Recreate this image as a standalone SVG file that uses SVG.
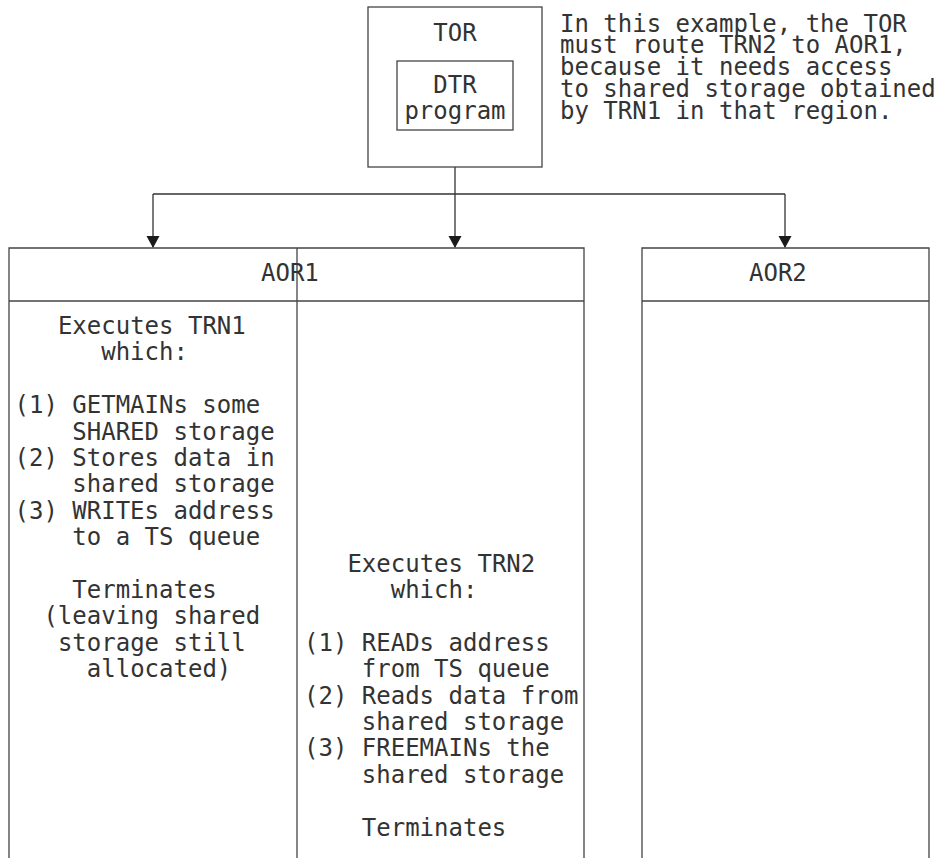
<svg xmlns="http://www.w3.org/2000/svg" width="937" height="858" viewBox="0 0 937 858">
<defs>
<style>
.box{fill:none;stroke:#444;stroke-width:1.3}
.ln{fill:none;stroke:#333;stroke-width:1.3}
.t{font-family:"DejaVu Sans Mono","Liberation Mono",monospace;font-size:24px;fill:#333}
.m{text-anchor:middle}
</style>
</defs>
<rect width="937" height="858" fill="#fff"/>

<g id="connectors">
<path class="ln" d="M455,167 V247"/>
<path class="ln" d="M153,194 H785"/>
<path class="ln" d="M153,194 V247"/>
<path class="ln" d="M785,194 V247"/>
<path d="M448.5,236 L461.5,236 L455,248 Z" fill="#1a1a1a"/>
<path d="M146.5,236 L159.5,236 L153,248 Z" fill="#1a1a1a"/>
<path d="M778.5,236 L791.5,236 L785,248 Z" fill="#1a1a1a"/>
</g>

<g id="TOR">
<rect class="box" x="368" y="7" width="174" height="160"/>
<text class="t m" x="455" y="41">TOR</text>
<g id="DTR">
<rect class="box" x="397" y="61" width="116" height="69"/>
<text class="t m" x="455" y="93">DTR</text>
<text class="t m" x="455" y="119">program</text>
</g>
</g>

<g id="note">
<text class="t" x="560" y="31.5">In this example, the TOR</text>
<text class="t" x="560" y="53.4">must route TRN2 to AOR1,</text>
<text class="t" x="560" y="75.3">because it needs access</text>
<text class="t" x="560" y="97.2">to shared storage obtained</text>
<text class="t" x="560" y="119.1">by TRN1 in that region.</text>
</g>

<g id="AOR1">
<path class="box" d="M9,870 V248 H584 V870"/>
<path class="box" d="M9,301 H584"/>
<path class="box" d="M297,248 V870"/>
<text class="t" x="261" y="281">AOR1</text>
<g id="TRN1">
<text class="t" x="57.9" y="334">Executes TRN1</text>
<text class="t" x="101.2" y="360.4">which:</text>
<text class="t" x="14.5" y="413.2">(1) GETMAINs some</text>
<text class="t" x="72.3" y="439.6">SHARED storage</text>
<text class="t" x="14.5" y="466">(2) Stores data in</text>
<text class="t" x="72.3" y="492.4">shared storage</text>
<text class="t" x="14.5" y="518.8">(3) WRITEs address</text>
<text class="t" x="72.3" y="545.2">to a TS queue</text>
<text class="t" x="72.3" y="598">Terminates</text>
<text class="t" x="43.4" y="624.4">(leaving shared</text>
<text class="t" x="57.9" y="650.8">storage still</text>
<text class="t" x="86.8" y="677.2">allocated)</text>
</g>
<g id="TRN2">
<text class="t" x="347.4" y="571.6">Executes TRN2</text>
<text class="t" x="390.7" y="598">which:</text>
<text class="t" x="304" y="650.8">(1) READs address</text>
<text class="t" x="361.8" y="677.2">from TS queue</text>
<text class="t" x="304" y="703.6">(2) Reads data from</text>
<text class="t" x="361.8" y="730">shared storage</text>
<text class="t" x="304" y="756.4">(3) FREEMAINs the</text>
<text class="t" x="361.8" y="782.8">shared storage</text>
<text class="t" x="361.8" y="835.6">Terminates</text>
</g>
</g>

<g id="AOR2">
<path class="box" d="M642,870 V248 H929 V870"/>
<path class="box" d="M642,301 H929"/>
<text class="t" x="749" y="281">AOR2</text>
</g>
</svg>
